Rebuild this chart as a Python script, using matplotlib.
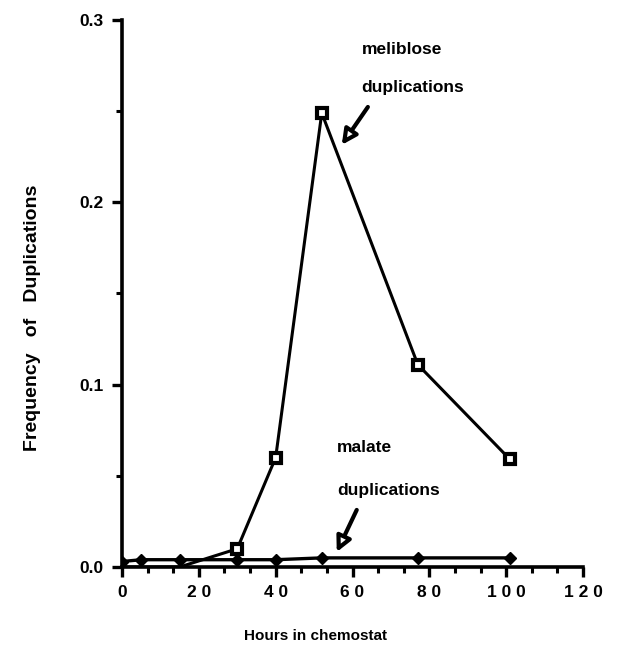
import numpy as np
import matplotlib.pyplot as plt
from matplotlib.ticker import MultipleLocator

# values
melib_hours = [0, 15, 30, 40, 52, 77, 101]
melib_freq = [0.0, 0.0, 0.010, 0.060, 0.249, 0.111, 0.059]

malate_hours = [0, 5, 15, 30, 40, 52, 77, 101]
malate_freq = [0.003, 0.004, 0.004, 0.004, 0.004, 0.005, 0.005, 0.005]

x_ticks = [0, 20, 40, 60, 80, 100, 120]
y_ticks = [0.0, 0.1, 0.2, 0.3]

plt.rcParams['font.family'] = ['Liberation Sans', 'DejaVu Sans']
plt.rcParams['font.weight'] = 'bold'

fig = plt.figure(figsize=(6.18, 6.72), dpi=100)
ax = fig.add_axes([122 / 618, 105 / 672, 461 / 618, 547 / 672])

ax.plot(malate_hours, malate_freq, color='black', lw=2.4, marker='D',
        markersize=6.5, markerfacecolor='black', markeredgecolor='black', zorder=3)
ax.plot(melib_hours, melib_freq, color='black', lw=2.2, marker='s',
        markersize=7.5, markerfacecolor='white', markeredgecolor='black',
        markeredgewidth=3, markevery=[2, 3, 4, 5, 6], zorder=4)

ax.set_xlim(0, 120)
ax.set_ylim(0, 0.3)
ax.set_xticks(x_ticks)
# spaced-out digits as in the original
ax.set_xticklabels([' '.join(str(t)) for t in x_ticks])
ax.set_yticks(y_ticks)
ax.set_yticklabels(['%.1f' % t for t in y_ticks])
ax.xaxis.set_minor_locator(MultipleLocator(20 / 3))
ax.yaxis.set_minor_locator(MultipleLocator(0.05))

for side in ['top', 'right']:
    ax.spines[side].set_visible(False)
for side in ['left', 'bottom']:
    ax.spines[side].set_linewidth(2.6)
ax.tick_params(which='major', length=7, width=2.4, labelsize=12.5, pad=6)
ax.tick_params(which='minor', length=4, width=2.2)
for lab in ax.get_xticklabels() + ax.get_yticklabels():
    lab.set_fontweight('bold')

ax.set_ylabel('Frequency   of   Duplications', fontsize=14, fontweight='bold')
ax.yaxis.set_label_coords(-0.175, 0.455)
fig.text(316 / 618, 1 - 636 / 672, 'Hours in chemostat', ha='center', va='center',
         fontsize=11, fontweight='bold')

arrow_style = dict(arrowstyle='-|>,head_length=0.9,head_width=0.45',
                   color='black', lw=3, fc='white', shrinkA=0, shrinkB=0)

ax.text(62.4, 0.2836, 'meliblose', fontsize=12.5, fontweight='bold', va='center')
ax.text(62.4, 0.2628, 'duplications', fontsize=12.5, fontweight='bold', va='center')
ax.annotate('', xy=(57.2, 0.2315), xytext=(64, 0.2523), arrowprops=arrow_style)

ax.text(55.9, 0.0658, 'malate', fontsize=12.5, fontweight='bold', va='center')
ax.text(56.1, 0.0422, 'duplications', fontsize=12.5, fontweight='bold', va='center')
ax.annotate('', xy=(55.9, 0.0082), xytext=(61.1, 0.0313), arrowprops=arrow_style)

fig.savefig('out.png', dpi=100)
